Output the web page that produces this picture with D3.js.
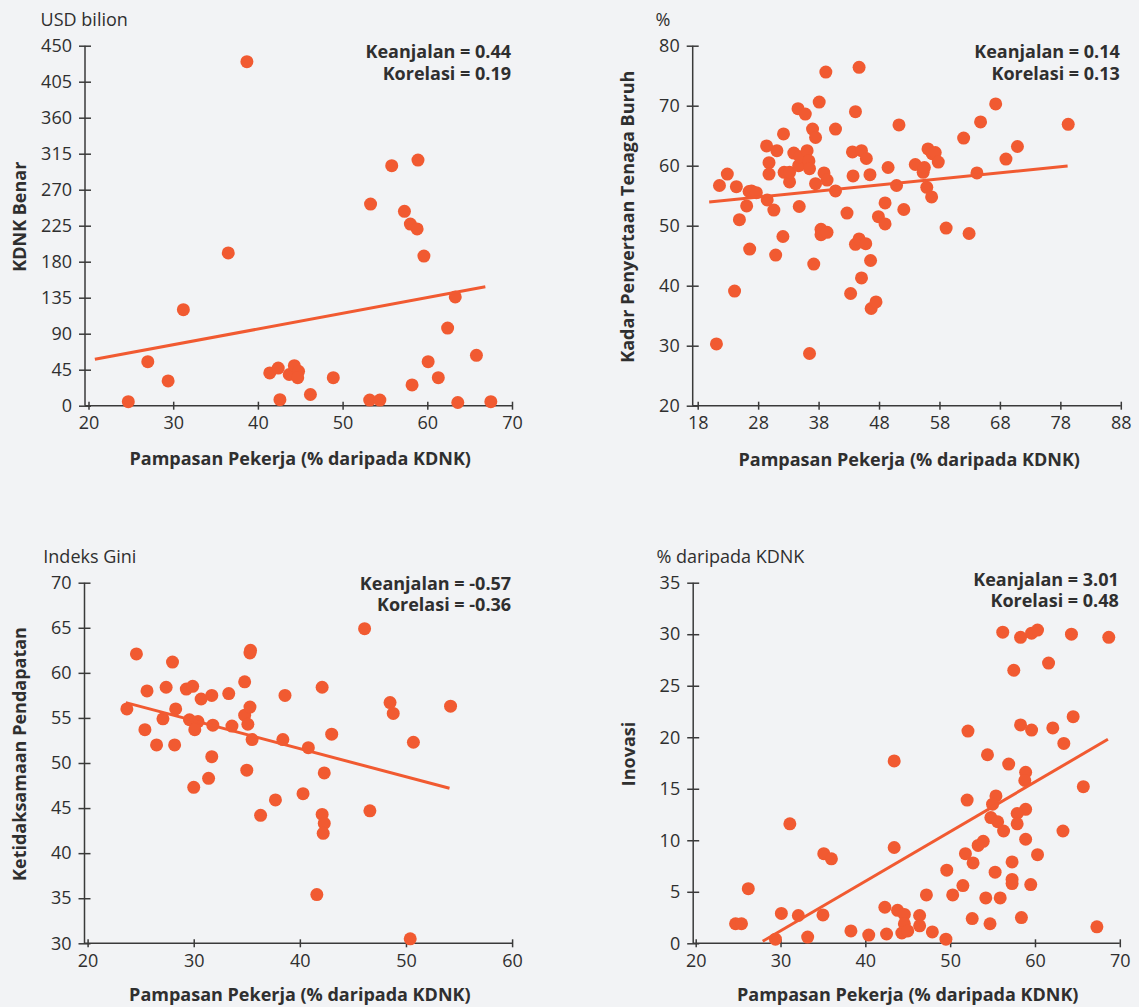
<!DOCTYPE html>
<html>
  <head>
    <title>Pampasan Pekerja</title>
    <script src="https://d3js.org/d3.v7.min.js"></script>
    <style>
      body { margin: 0; background: #f2f3f5; }
      svg text { font-family: "Open Sans", "Noto Sans", sans-serif; }
    </style>
  </head>
  <body>
    <div id="chart"></div>

    <script>
      const xTitle = "Pampasan Pekerja (% daripada KDNK)";

      // KDNK Benar (USD bilion)
      const gdpX = [38.7, 55.8, 58.9, 53.3, 57.3, 58.0, 58.8, 36.5, 59.6, 31.2, 63.3, 62.4, 27.0, 29.4, 24.7, 41.4,
                    42.4, 42.6, 43.7, 44.3, 44.8, 44.7, 46.2, 48.9, 53.2, 54.4, 58.2, 60.1, 61.3, 63.6, 65.8, 67.5];
      const gdpY = [430, 300, 307, 252, 243, 227, 221, 191, 187, 120, 136, 97, 55, 31, 5, 41,
                    47, 7.5, 39, 50, 43, 35, 14, 35, 7, 7, 26, 55, 35, 4, 63, 5];
      const gdpFit = [[20.75, 58], [66.85, 148.7]];
      const gdpXTicks = [20, 30, 40, 50, 60, 70];
      const gdpYTicks = [0, 45, 90, 135, 180, 225, 270, 315, 360, 405, 450];

      // Kadar Penyertaan Tenaga Buruh (%)
      const lfpX = [21.6, 22.9, 24.4, 24.9, 26.1, 26.5, 26.9, 27.7, 29.4, 29.8, 29.8, 29.5, 30.6, 31.1, 32.2, 32.3,
                    33.2, 33.2, 33.9, 34.7, 34.6, 34.8, 34.9, 35.8, 36.1, 36.4, 36.5, 37.0, 37.5, 37.5, 38.1, 38.9,
                    39.2, 39.4, 38.4, 38.4, 39.4, 40.8, 40.8, 42.7, 43.6, 43.7, 44.1, 44.7, 45.1, 45.9, 46.5, 47.9,
                    49.0, 49.0, 49.5, 50.9, 51.3, 52.1, 54.0, 55.3, 55.5, 56.1, 55.9, 56.7, 56.8, 57.3, 57.8, 59.1,
                    62.0, 62.9, 64.2, 64.8, 67.3, 69.0, 70.9, 79.3, 21.1, 24.1, 26.6, 30.9, 32.1, 36.5, 37.2, 43.3,
                    44.1, 44.7, 45.8, 45.1, 46.6, 46.7, 47.5];
      const lfpY = [56.7, 58.6, 56.5, 51.0, 53.3, 55.7, 55.8, 55.5, 63.3, 60.5, 58.6, 54.3, 52.6, 62.5, 65.3, 58.9,
                    57.3, 58.9, 62.1, 60.0, 69.5, 53.2, 61.5, 68.6, 62.5, 60.8, 59.5, 66.1, 64.7, 57.0, 70.6, 58.8,
                    75.6, 57.6, 49.4, 48.5, 48.9, 66.1, 55.8, 52.1, 62.3, 58.3, 69.0, 76.4, 62.5, 61.2, 58.5, 51.5,
                    53.8, 50.3, 59.7, 56.7, 66.8, 52.7, 60.2, 58.9, 59.7, 62.8, 56.4, 54.8, 62.0, 62.2, 60.6, 49.6,
                    64.6, 48.7, 58.8, 67.3, 70.3, 61.1, 63.2, 66.9, 30.3, 39.1, 46.1, 45.1, 48.2, 28.7, 43.6, 38.7,
                    46.9, 47.8, 47.0, 41.3, 44.2, 36.2, 37.3];
      const lfpFit = [[19.9, 53.95], [79.2, 59.95]];
      const lfpXTicks = [18, 28, 38, 48, 58, 68, 78, 88];
      const lfpYTicks = [20, 30, 40, 50, 60, 70, 80];

      // Ketidaksamaan Pendapatan (Indeks Gini)
      const giniX = [23.7, 24.6, 25.6, 25.4, 26.5, 27.1, 27.4, 28.0, 28.2, 28.3, 29.3, 29.9, 29.6, 30.4, 30.1, 30.7,
                     31.7, 31.8, 31.7, 33.3, 33.6, 34.8, 34.8, 35.1, 35.3, 35.3, 35.35, 35.5, 35.0, 38.4, 38.6, 40.8,
                     42.1, 43.0, 42.3, 46.1, 48.5, 48.8, 50.7, 54.2, 30.0, 31.4, 37.7, 36.3, 40.3, 42.1, 42.3, 42.2,
                     46.6, 41.6, 50.4];
      const giniY = [56.0, 62.1, 58.0, 53.7, 52.0, 54.9, 58.4, 61.2, 52.0, 56.0, 58.2, 58.5, 54.8, 54.6, 53.7, 57.1,
                     57.5, 54.2, 50.7, 57.7, 54.1, 59.0, 55.3, 54.3, 56.2, 62.2, 62.5, 52.6, 49.2, 52.6, 57.5, 51.7,
                     58.4, 53.2, 48.9, 64.9, 56.7, 55.5, 52.3, 56.3, 47.3, 48.3, 45.9, 44.2, 46.6, 44.3, 43.3, 42.2,
                     44.7, 35.4, 30.5];
      const giniFit = [[23.6, 56.7], [54.1, 47.2]];
      const giniXTicks = [20, 30, 40, 50, 60];
      const giniYTicks = [30, 35, 40, 45, 50, 55, 60, 65, 70];

      // Inovasi (% daripada KDNK)
      const innovX = [56.2, 58.3, 59.6, 60.3, 64.3, 68.7, 57.5, 61.6, 52.1, 58.3, 59.6, 62.1, 64.5, 63.4, 54.4, 43.4,
                      56.9, 58.9, 58.8, 65.7, 55.4, 55.0, 52.0, 58.9, 57.9, 54.8, 55.6, 57.9, 56.3, 63.3, 31.1, 58.9,
                      53.9, 53.3, 43.4, 60.3, 51.8, 35.1, 36.0, 52.7, 57.3, 49.6, 55.3, 57.3, 57.3, 59.5, 51.5, 26.2,
                      47.2, 50.3, 54.2, 55.9, 42.3, 43.8, 44.6, 46.4, 52.6, 58.4, 30.1, 32.1, 35.0, 24.7, 25.4, 44.6,
                      46.4, 54.7, 67.3, 38.3, 47.9, 40.4, 42.5, 44.3, 45.0, 29.4, 33.2, 49.5];
      const innovY = [30.2, 29.7, 30.1, 30.4, 30.0, 29.7, 26.5, 27.2, 20.6, 21.2, 20.7, 20.9, 22.0, 19.4, 18.3, 17.7,
                      17.4, 16.6, 15.8, 15.2, 14.3, 13.5, 13.9, 13.0, 12.6, 12.2, 11.8, 11.6, 10.9, 10.9, 11.6, 10.1,
                      9.9, 9.5, 9.3, 8.6, 8.7, 8.7, 8.2, 7.8, 7.9, 7.1, 6.9, 6.2, 5.8, 5.7, 5.6, 5.3,
                      4.7, 4.7, 4.4, 4.4, 3.5, 3.2, 2.8, 2.7, 2.4, 2.5, 2.9, 2.7, 2.75, 1.9, 1.9, 1.9,
                      1.7, 1.9, 1.6, 1.2, 1.1, 0.8, 0.9, 1.0, 1.2, 0.4, 0.6, 0.4];
      const innovFit = [[27.9, 0.2], [68.6, 19.8]];
      const innovXTicks = [20, 30, 40, 50, 60, 70];
      const innovYTicks = [0, 5, 10, 15, 20, 25, 30, 35];

      const units = ["USD bilion", "%", "Indeks Gini", "% daripada KDNK"];
      const yTitles = ["KDNK Benar", "Kadar Penyertaan Tenaga Buruh", "Ketidaksamaan Pendapatan", "Inovasi"];
      const elasticity = ["0.44", "0.14", "-0.57", "3.01"];
      const correlation = ["0.19", "0.13", "-0.36", "0.48"];

      const dotColor = "#f15a31";
      const inkColor = "#2f2f2f";

      // layout for each panel (pixels)
      const panels = [
        { xs: gdpX, ys: gdpY, fit: gdpFit, xTicks: gdpXTicks, yTicks: gdpYTicks,
          xRange: [88.5, 512], yRange: [405.7, 45.7], axisX: 85, unitX: 40.6, statY: 52, xTitleY: 458.5 },
        { xs: lfpX, ys: lfpY, fit: lfpFit, xTicks: lfpXTicks, yTicks: lfpYTicks,
          xRange: [697.7, 1120.8], yRange: [405.7, 45.7], axisX: 692.7, unitX: 655.5, statY: 51.7, xTitleY: 460 },
        { xs: giniX, ys: giniY, fit: giniFit, xTicks: giniXTicks, yTicks: giniYTicks,
          xRange: [87.6, 512.1], yRange: [943.3, 582.7], axisX: 84.5, unitX: 43.3, statY: 583.3, xTitleY: 995 },
        { xs: innovX, ys: innovY, fit: innovFit, xTicks: innovXTicks, yTicks: innovYTicks,
          xRange: [695.7, 1119.8], yRange: [943.3, 582.7], axisX: 693.2, unitX: 656.5, statY: 579.3, xTitleY: 995 }
      ];

      const svg = d3.select("#chart").append("svg")
        .attr("width", 1139).attr("height", 1007)
        .style("background", "#f2f3f5");

      panels.forEach((p, i) => {
        const xTicks = p.xTicks, yTicks = p.yTicks;
        const x = d3.scaleLinear().domain([xTicks[0], xTicks[xTicks.length - 1]]).range(p.xRange);
        const y = d3.scaleLinear().domain([yTicks[0], yTicks[yTicks.length - 1]]).range(p.yRange);
        const g = svg.append("g");

        // y axis
        g.append("g")
          .attr("transform", `translate(${p.axisX},0)`)
          .call(d3.axisLeft(y).tickValues(yTicks).tickSize(6).tickSizeOuter(0))
          .call(a => a.select(".domain").remove())
          .call(a => a.selectAll(".tick line").attr("x1", -6).attr("x2", 6)
            .attr("stroke", "#3a3a3a").attr("stroke-width", 1.5))
          .call(a => a.selectAll(".tick text").attr("x", -13)
            .attr("font-size", 18).attr("font-family", "Open Sans").attr("fill", inkColor));

        // x axis
        g.append("g")
          .attr("transform", `translate(0,${p.yRange[0]})`)
          .call(d3.axisBottom(x).tickValues(xTicks).tickSize(4).tickSizeOuter(0))
          .call(a => a.select(".domain").remove())
          .call(a => a.selectAll(".tick line").attr("y1", -4).attr("y2", 4)
            .attr("stroke", "#3a3a3a").attr("stroke-width", 1.5))
          .call(a => a.selectAll(".tick text").attr("y", 11)
            .attr("font-size", 18).attr("font-family", "Open Sans").attr("fill", inkColor));

        g.append("line")
          .attr("x1", p.axisX).attr("x2", p.axisX)
          .attr("y1", p.yRange[1]).attr("y2", p.yRange[0])
          .attr("stroke", "#3a3a3a").attr("stroke-width", 1.5);
        g.append("line")
          .attr("x1", p.axisX).attr("x2", p.xRange[1])
          .attr("y1", p.yRange[0]).attr("y2", p.yRange[0])
          .attr("stroke", "#3a3a3a").attr("stroke-width", 1.5);

        // points
        g.append("g").selectAll("circle")
          .data(d3.zip(p.xs, p.ys))
          .join("circle")
          .attr("cx", d => x(d[0]))
          .attr("cy", d => y(d[1]))
          .attr("r", 6.5)
          .attr("fill", dotColor);

        // trend line
        g.append("line")
          .attr("x1", x(p.fit[0][0])).attr("y1", y(p.fit[0][1]))
          .attr("x2", x(p.fit[1][0])).attr("y2", y(p.fit[1][1]))
          .attr("stroke", dotColor).attr("stroke-width", 3);

        // unit label
        g.append("text")
          .attr("x", p.unitX).attr("y", p.yRange[1] - 26).attr("dy", "0.35em")
          .attr("font-size", 18).attr("fill", inkColor)
          .text(units[i]);

        // y title
        const yMid = (p.yRange[0] + p.yRange[1]) / 2 - 9;
        g.append("text")
          .attr("transform", `translate(${p.axisX - 65},${yMid}) rotate(-90)`)
          .attr("text-anchor", "middle").attr("dy", "0.35em")
          .attr("font-size", 18).attr("font-weight", 700).attr("fill", inkColor)
          .text(yTitles[i]);

        // x title
        g.append("text")
          .attr("x", (p.xRange[0] + p.xRange[1]) / 2).attr("y", p.xTitleY).attr("dy", "0.35em")
          .attr("text-anchor", "middle")
          .attr("font-size", 18).attr("font-weight", 700).attr("fill", inkColor)
          .text(xTitle);

        // stats, one text block with two lines
        const stats = [`Keanjalan = ${elasticity[i]}`, `Korelasi = ${correlation[i]}`];
        g.append("text")
          .attr("text-anchor", "end")
          .attr("font-size", 18).attr("font-weight", 700).attr("fill", inkColor)
          .selectAll("tspan")
          .data(stats)
          .join("tspan")
          .attr("x", p.xRange[1] - 1)
          .attr("y", (d, k) => p.statY + k * 21.5)
          .attr("dy", "0.35em")
          .text(d => d);
      });
    </script>
  </body>
</html>
